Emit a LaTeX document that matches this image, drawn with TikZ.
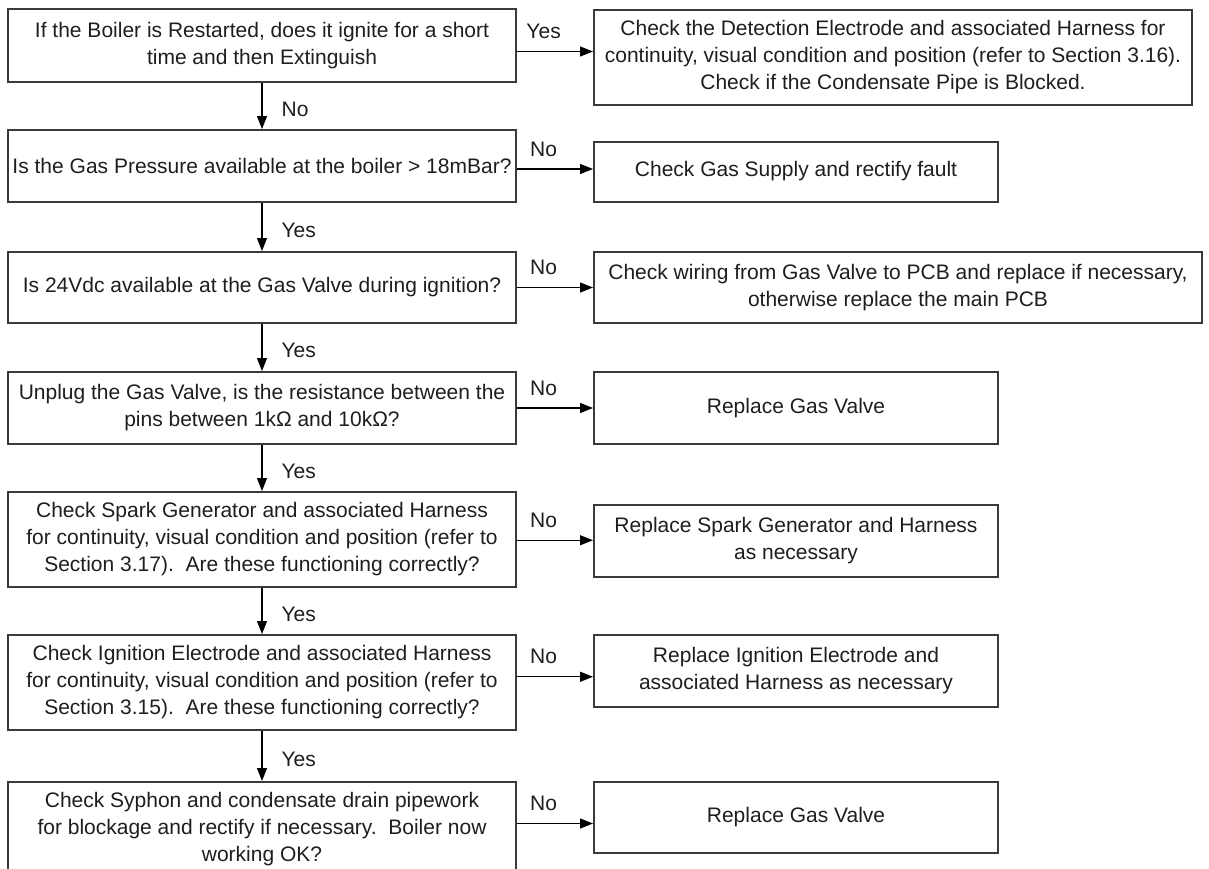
\documentclass[tikz,border=0pt]{standalone}
\usepackage{fontspec}
\setmainfont{Liberation Sans}
\usepackage{tikz}
\usetikzlibrary{arrows.meta,positioning,calc}
\definecolor{edge}{HTML}{3A3A3A}
\definecolor{ink}{HTML}{1E1E1E}
\tikzset{
  >={Triangle[length=6.5pt,width=5pt]},
  box/.style={draw=edge,line width=1pt,inner sep=2pt,align=center,font=\fontsize{10.5}{13.5}\selectfont,text=ink},
  qbox/.style={box,minimum width=254pt},
  abox/.style={box,minimum width=202pt,minimum height=36pt},
  lab/.style={font=\fontsize{10.5}{13.5}\selectfont,text=ink,inner sep=2pt},
  arr/.style={->,draw=black,line width=0.6pt},
}

\begin{document}
\begin{tikzpicture}[x=0.5pt,y=-0.5pt]
\useasboundingbox (0,0) rectangle (1209,868);
\node[qbox,minimum height=36.5pt] (q1) at (262,45.5) {If the Boiler is Restarted, does it ignite for a short\\time and then Extinguish};
\node[qbox,minimum height=36pt] (q2) at (262,166) {Is the Gas Pressure available at the boiler > 18mBar?};
\node[qbox,minimum height=35.5pt] (q3) at (262,287.5) {Is 24Vdc available at the Gas Valve during ignition?};
\node[qbox,minimum height=36pt] (q4) at (262,408) {Unplug the Gas Valve, is the resistance between the\\pins between 1kΩ and 10kΩ?};
\node[qbox,minimum height=47.5pt] (q5) at (262,539.5) {Check Spark Generator and associated Harness\\for continuity, visual condition and position (refer to\\Section 3.17).\ \ Are these functioning correctly?};
\node[qbox,minimum height=47.5pt] (q6) at (262,682.5) {Check Ignition Electrode and associated Harness\\for continuity, visual condition and position (refer to\\Section 3.15).\ \ Are these functioning correctly?};
\node[qbox,minimum height=47.5pt] (q7) at (262,829.5) {Check Syphon and condensate drain pipework\\for blockage and rectify if necessary.\ \ Boiler now\\working OK?};

\node[box,minimum width=299pt,minimum height=47.5pt] (a1) at (893,57.5) {Check the Detection Electrode and associated Harness for\\continuity, visual condition and position (refer to Section 3.16).\\Check if the Condensate Pipe is Blocked.};
\node[abox,minimum height=30pt] (a2) at (796,172) {Check Gas Supply and rectify fault\\[-10pt]};
\node[box,minimum width=304pt,minimum height=35.5pt] (a3) at (898,287.5) {Check wiring from Gas Valve to PCB and replace if necessary,\\otherwise replace the main PCB};
\node[abox] (a4) at (796,408) {Replace Gas Valve};
\node[abox] (a5) at (796,541) {Replace Spark Generator and Harness\\as necessary};
\node[abox] (a6) at (796,671) {Replace Ignition Electrode and\\associated Harness as necessary};
\node[abox,minimum height=35.5pt] (a7) at (796,817.5) {Replace Gas Valve};

\foreach \i/\t in {1/Yes,2/No,3/No,4/No,5/No,6/No,7/No}{
  \coordinate (m\i) at ($(q\i.east)!.5!(a\i.west)$);
  \draw[arr] (q\i.east |- m\i) -- (a\i.west |- m\i) node[lab,pos=.35,above=4pt] {\t};
}
\foreach \i/\j/\t in {1/2/No,2/3/Yes,3/4/Yes,4/5/Yes,5/6/Yes,6/7/Yes}
  \draw[arr] (q\i.south) -- (q\j.north) node[lab,midway,right=7.5pt,yshift=-1.5pt] {\t};
\end{tikzpicture}
\end{document}
